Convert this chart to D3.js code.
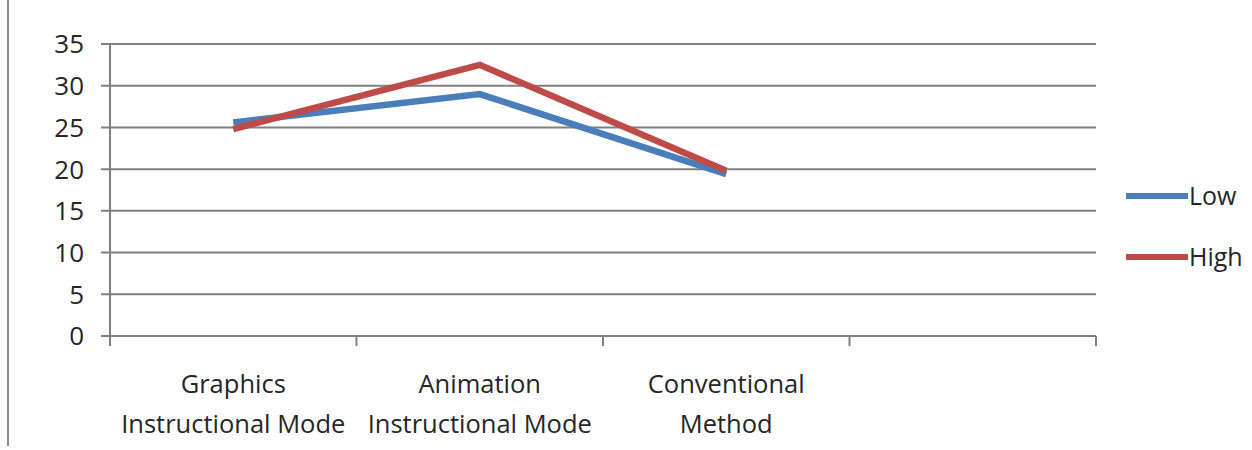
<!DOCTYPE html>
<html><head><meta charset="utf-8">
<script src="https://cdn.jsdelivr.net/npm/d3@7"></script>
<style>body{margin:0;background:#fff}svg{display:block}text{font-family:"Open Sans",sans-serif;fill:#262626}</style>
</head><body>
<script>
const categories = ["Graphics\nInstructional Mode", "Animation\nInstructional Mode", "Conventional\nMethod", ""];
const lowValues = [25.6, 29.0, 19.4];
const highValues = [24.8, 32.5, 19.8];
const seriesNames = ["Low", "High"];
const yTicks = [0, 5, 10, 15, 20, 25, 30, 35];

const W = 1252, H = 450;
const svg = d3.select("body").append("svg").attr("width", W).attr("height", H);
const x = d3.scaleBand().domain(d3.range(categories.length)).range([110, 1096]);
const y = d3.scaleLinear().domain([0, 35]).range([336, 44]);

svg.append("line").attr("x1", 8).attr("x2", 8).attr("y1", 0).attr("y2", 446).attr("stroke", "#8c8c8c").attr("stroke-width", 2);

// grid
svg.append("g").selectAll("line").data(yTicks).join("line")
  .attr("x1", 101).attr("x2", 1096).attr("y1", d => y(d)).attr("y2", d => y(d))
  .attr("stroke", "#808080").attr("stroke-width", 2);
// y axis
svg.append("line").attr("x1", 110).attr("x2", 110).attr("y1", 44).attr("y2", 336).attr("stroke", "#808080").attr("stroke-width", 2);
svg.append("g").selectAll("text").data(yTicks).join("text")
  .attr("x", 84).attr("y", d => y(d)).attr("dy", "0.36em").attr("text-anchor", "end")
  .style("font-size", "26px").attr("transform-origin", "84 0")
  .text(d => d);
// x ticks
const bounds = d3.range(categories.length + 1).map(i => i < categories.length ? x(i) : x.range()[1]);
svg.append("g").selectAll("line").data(bounds).join("line")
  .attr("x1", d => d).attr("x2", d => d).attr("y1", 336).attr("y2", 346)
  .attr("stroke", "#808080").attr("stroke-width", 2);
const xl = svg.append("g").selectAll("text").data(categories).join("text")
  .attr("x", (d, i) => x(i) + x.bandwidth() / 2).attr("y", 393).attr("text-anchor", "middle")
  .style("font-size", "25.5px");
xl.selectAll("tspan").data(d => d.split("\n")).join("tspan")
  .attr("x", function () { return this.parentNode.getAttribute("x"); })
  .attr("dy", (d, i) => i === 0 ? 0 : 40).text(d => d);

const line = d3.line().x((d, i) => x(i) + x.bandwidth() / 2).y(d => y(d));
const colors = ["#4a7ebb", "#be4b48"];
[lowValues, highValues].forEach((vals, k) => {
  svg.append("path").attr("d", line(vals)).attr("fill", "none")
    .attr("stroke", colors[k]).attr("stroke-width", 6.5).attr("stroke-linejoin", "miter");
});

// legend
seriesNames.forEach((n, k) => {
  const ly = 196 + k * 61;
  svg.append("line").attr("x1", 1126).attr("x2", 1188).attr("y1", ly).attr("y2", ly)
    .attr("stroke", colors[k]).attr("stroke-width", 6);
  svg.append("text").attr("x", 1189).attr("y", ly).attr("dy", "0.35em").style("font-size", "25px").text(n);
});
</script>
</body></html>
